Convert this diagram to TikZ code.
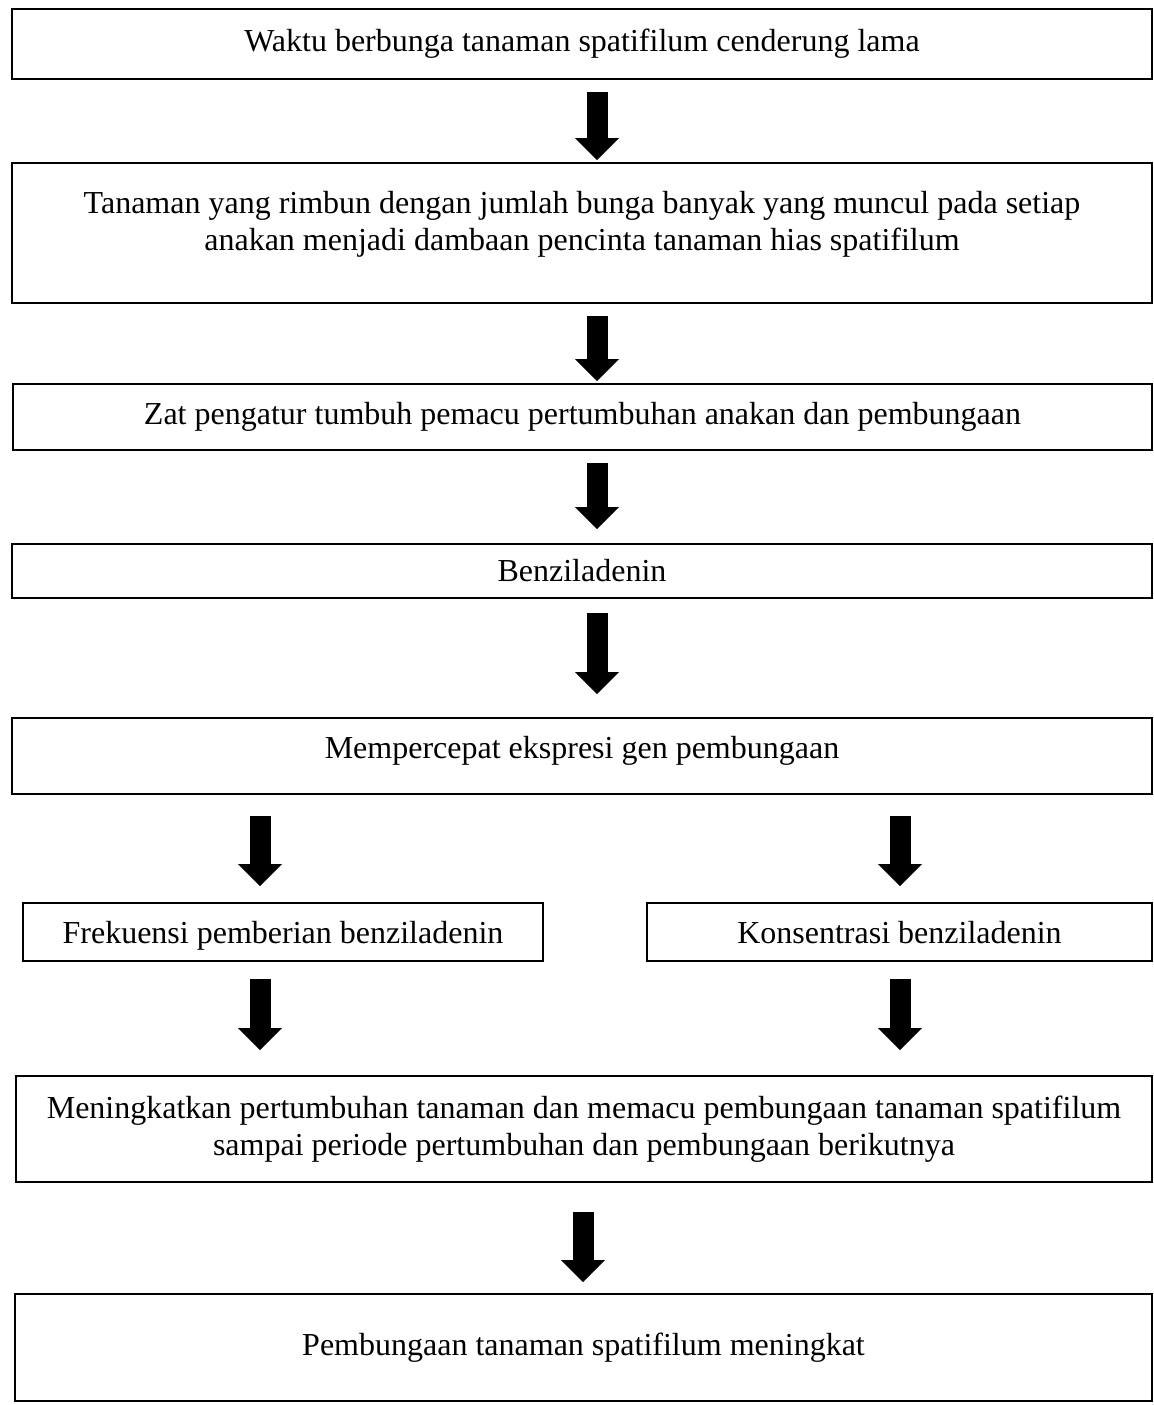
\documentclass[tikz,border=0pt]{standalone}
\usepackage{fontspec}
\setmainfont{Liberation Serif}
\usetikzlibrary{arrows.meta}

\begin{document}
\begin{tikzpicture}[x=0.5pt, y=-0.5pt,
    box/.style={draw, line width=1pt, inner sep=0pt, align=center,
      font=\fontsize{16pt}{18.4pt}\selectfont},
    blockarrow/.style={line width=10.5pt, -{Triangle[width=22pt, length=11pt, line width=0pt]}}]

  \useasboundingbox (0,0) rectangle (1154,1405);

  % kotak alur
  \node[box, minimum width=570pt, minimum height=35pt] (waktu) at (582,44) {Waktu berbunga tanaman spatifilum cenderung lama};
  \node[box, minimum width=570pt, minimum height=70pt, text depth=12.5pt] (rimbun) at (582,233)
    {Tanaman yang rimbun dengan jumlah bunga banyak yang muncul pada setiap\\anakan menjadi dambaan pencinta tanaman hias spatifilum};
  \node[box, minimum width=569.5pt, minimum height=33pt] (zpt) at (582.5,417) {Zat pengatur tumbuh pemacu pertumbuhan anakan dan pembungaan};
  \node[box, minimum width=570pt, minimum height=27pt] (ba) at (582,571) {Benziladenin};
  \node[box, minimum width=570pt, minimum height=38pt, text depth=9pt] (ekspresi) at (582,756) {Mempercepat ekspresi gen pembungaan};
  \node[box, minimum width=260pt, minimum height=29pt, text height=11pt, text depth=0pt] (frekuensi) at (283,932) {Frekuensi pemberian benziladenin};
  \node[box, minimum width=252.5pt, minimum height=29pt, text height=11pt, text depth=0pt] (konsentrasi) at (899.5,932) {Konsentrasi benziladenin};
  \node[box, minimum width=568pt, minimum height=53pt] (tumbuh) at (584,1129)
    {Meningkatkan pertumbuhan tanaman dan memacu pembungaan tanaman spatifilum\\sampai periode pertumbuhan dan pembungaan berikutnya};
  \node[box, minimum width=568.5pt, minimum height=53.5pt] (hasil) at (583.5,1347.5) {Pembungaan tanaman spatifilum meningkat};

  % kolom panah
  \coordinate (colmid) at (597,0);
  \coordinate (colleft) at (260,0);
  \coordinate (colright) at (900,0);
  \coordinate (colbottom) at (583,0);

  \draw[blockarrow, shorten <=6pt, shorten >=1pt] (colmid |- waktu.south) -- (colmid |- rimbun.north);
  \draw[blockarrow, shorten <=6pt, shorten >=1pt] (colmid |- rimbun.south) -- (colmid |- zpt.north);
  \draw[blockarrow, shorten <=6pt, shorten >=7pt] (colmid |- zpt.south) -- (colmid |- ba.north);
  \draw[blockarrow, shorten <=7pt, shorten >=11.5pt] (colmid |- ba.south) -- (colmid |- ekspresi.north);

  \draw[blockarrow, shorten <=10.5pt, shorten >=8pt] (colleft |- ekspresi.south) -- (colleft |- frekuensi.north);
  \draw[blockarrow, shorten <=10.5pt, shorten >=8pt] (colright |- ekspresi.south) -- (colright |- konsentrasi.north);
  \draw[blockarrow, shorten <=8.5pt, shorten >=12.5pt] (colleft |- frekuensi.south) -- (colleft |- tumbuh.north);
  \draw[blockarrow, shorten <=8.5pt, shorten >=12.5pt] (colright |- konsentrasi.south) -- (colright |- tumbuh.north);

  \draw[blockarrow, shorten <=14.5pt, shorten >=5.5pt] (colbottom |- tumbuh.south) -- (colbottom |- hasil.north);

\end{tikzpicture}
\end{document}
